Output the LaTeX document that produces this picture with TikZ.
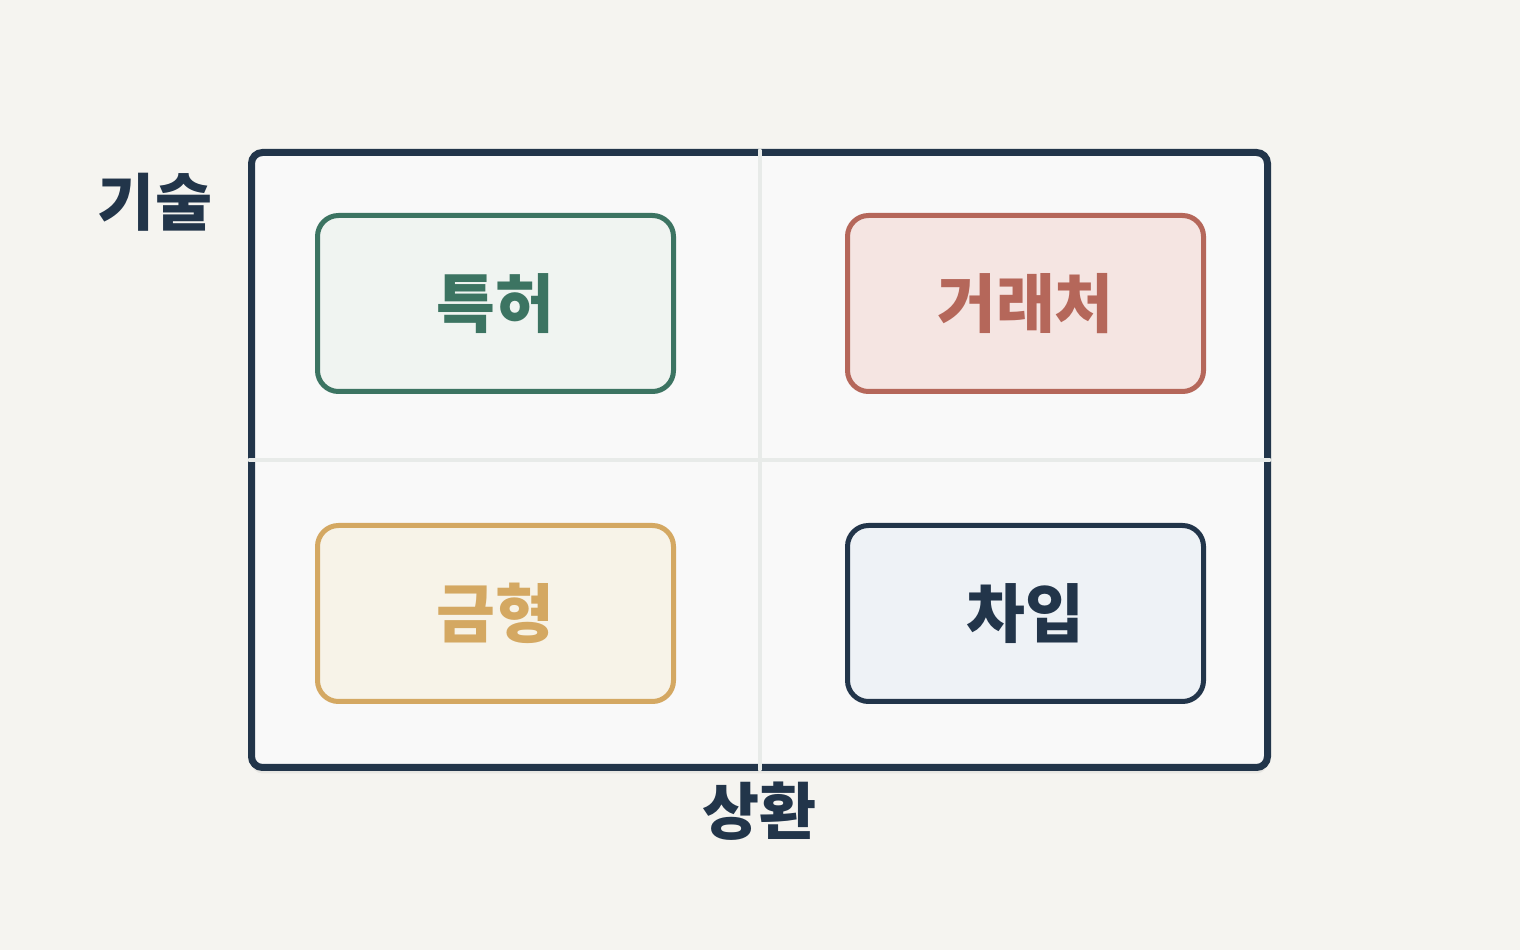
\documentclass[tikz,border=0pt]{standalone}
\usepackage{fontspec}
\newfontfamily\kr{Noto Sans CJK KR}
\usepackage{xcolor}
\usetikzlibrary{positioning,shadows}
\definecolor{bgpaper}{HTML}{F5F4F0}
\definecolor{framefill}{HTML}{F9F9F9}
\definecolor{navy}{HTML}{22354A}
\definecolor{gridline}{HTML}{E8EBE9}
\definecolor{green}{HTML}{3C7462}
\definecolor{greenfill}{HTML}{F0F4F1}
\definecolor{rust}{HTML}{B5675A}
\definecolor{rustfill}{HTML}{F5E5E2}
\definecolor{ochre}{HTML}{D4A862}
\definecolor{ochrefill}{HTML}{F7F3E8}
\definecolor{navyfill}{HTML}{EEF2F6}
\tikzset{
  quad/.style={draw=#1,fill=#1fill,line width=5pt,rounded corners=21pt,
    minimum width=356pt,minimum height=176pt,text=#1,
    font=\kr\bfseries\fontsize{64}{66}\selectfont},
  axislabel/.style={text=navy,font=\kr\bfseries\fontsize{62}{64}\selectfont}
}

\begin{document}
\begin{tikzpicture}[x=1pt,y=1pt]
    \fill [bgpaper] (0,0) rectangle (1520,950);
    \useasboundingbox (0,0) rectangle (1520,950);

    \node [draw=navy,fill=framefill,line width=7pt,rounded corners=11pt,
      minimum width=1016pt,minimum height=615pt,
      drop shadow={shadow xshift=0pt,shadow yshift=-6pt,opacity=.05,fill=black}]
      (frame) at (759.5,490) {};
    \draw [gridline,line width=4pt,line cap=round]
      ([yshift=-1.5pt]frame.north) -- ([yshift=1.5pt]frame.south);
    \draw [gridline,line width=4pt,line cap=round]
      ([xshift=1.5pt]frame.west) -- ([xshift=-1.5pt]frame.east);

    \node [quad=green] (patent) at (495.5,646.5) {특허};
    \node [quad=rust] (client) at (1025.5,646.5) {거래처};
    \node [quad=ochre] (mold) at (495.5,336.5) {금형};
    \node [quad=navy] (loan) at (1025.5,336.5) {차입};

    \node [axislabel] (tech) at (155,748) {기술};
    \node [axislabel,below=7pt of frame.south] (repay) {상환};
\end{tikzpicture}
\end{document}
